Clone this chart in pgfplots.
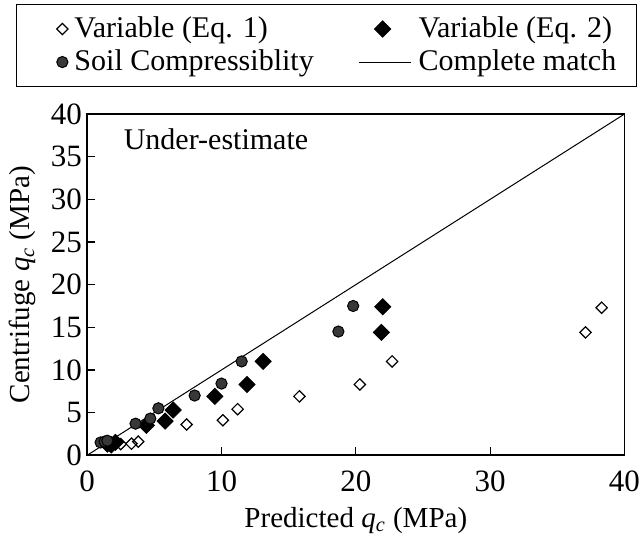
\documentclass[border=0pt]{standalone}
\usepackage{fontspec}
\setmainfont{Liberation Serif}
\usepackage{pgfplots}
\pgfplotsset{compat=1.18}

\newcommand{\qc}{\textit{q}\textsubscript{\textit{c}}}

\pgfplotsset{
  leftmark legend/.style={legend image code/.code={\path (0pt,0pt) (24.4pt,0pt); \draw[##1] plot coordinates {(20.6pt,0pt)};}},
  midmark legend/.style={legend image code/.code={\path (0pt,0pt) (27.5pt,0pt); \draw[##1] plot coordinates {(11.7pt,0pt)};}},
  longline legend/.style={legend image code/.code={\draw[##1] (0pt,0pt) -- (25.9pt,0pt); \path (27.5pt,0pt);}},
}

\begin{document}
\fontsize{14}{17}\selectfont
\begin{tikzpicture}
\begin{axis}[
    scale only axis,
    width=268.5pt, height=170.5pt,
    xmin=0, xmax=40, ymin=0, ymax=40,
    xtick={0,10,20,30,40},
    ytick={0,5,...,40},
    tick align=inside,
    xtick pos=bottom, ytick pos=left,
    major tick length=4pt,
    tick style={black, line width=0.6pt},
    axis line style={line width=0.8pt},
    /pgf/number format/assume math mode=true,
    tick label style={font=\fontsize{15.5}{18}\selectfont},
    xticklabel style={inner xsep=0pt, yshift=-3pt},
    yticklabel style={inner xsep=2.5pt},
    xlabel={Predicted \qc{} (MPa)},
    ylabel={Centrifuge \qc{} (MPa)},
    label style={font=\fontsize{14.5}{17}\selectfont},
    xlabel style={yshift=2pt},
    ylabel style={yshift=0pt},
    legend columns=2,
    legend cell align=left,
    legend style={at={(0,1)}, anchor=north west, xshift=-35.5pt, yshift=55pt,
        font=\fontsize{15}{18}\selectfont,
        nodes={inner xsep=2pt},
        draw=black, line width=0.5pt, inner xsep=2pt, inner ysep=4pt, row sep=0pt,
        /tikz/every even column/.append style={column sep=20.4pt}},
]
% Variable (Eq. 1)
\addplot[only marks, mark=square, mark size=2pt, mark options={rotate=45, black, fill=white, line width=0.6pt},
    leftmark legend]
coordinates {
(2.5,1.3) (3.3,1.35) (3.8,1.6) (7.4,3.6) (10.1,4.1) (11.2,5.4)
(15.8,6.9) (20.3,8.3) (22.7,11.0) (37.1,14.4) (38.3,17.3)
};
\addlegendentry{Variable (Eq. 1)}
% Variable (Eq. 2)
\addplot[only marks, mark=square*, mark size=2.85pt, mark options={rotate=45, black, fill=black},
    midmark legend]
coordinates {
(1.5,1.3) (1.8,1.2) (2.1,1.5) (4.4,3.5) (5.8,4.0) (6.4,5.3)
(9.5,6.9) (11.9,8.3) (13.1,11.0) (21.9,14.4) (22.0,17.4)
};
\addlegendentry{Variable (Eq. 2)}
% Soil Compressiblity
\addplot[only marks, mark=*, mark size=2.8pt, mark options={draw=black, fill=black!78, line width=0.5pt},
    leftmark legend]
coordinates {
(1.0,1.5) (1.3,1.6) (1.5,1.7) (3.6,3.7) (4.7,4.3) (5.3,5.5)
(8.0,7.0) (10.0,8.4) (11.5,11.0) (18.7,14.5) (19.8,17.5)
};
\addlegendentry{Soil Compressiblity}
% Complete match
\addplot[black, line width=0.5pt, longline legend]
coordinates {(0,0) (40,40)};
\addlegendentry{Complete match\hspace*{6pt}}
\node[anchor=west, font=\fontsize{15}{18}\selectfont] at (axis cs:2.0,37.0) {Under-estimate};
\end{axis}
\path (current bounding box.north) ++(0,2pt);
\end{tikzpicture}
\end{document}
